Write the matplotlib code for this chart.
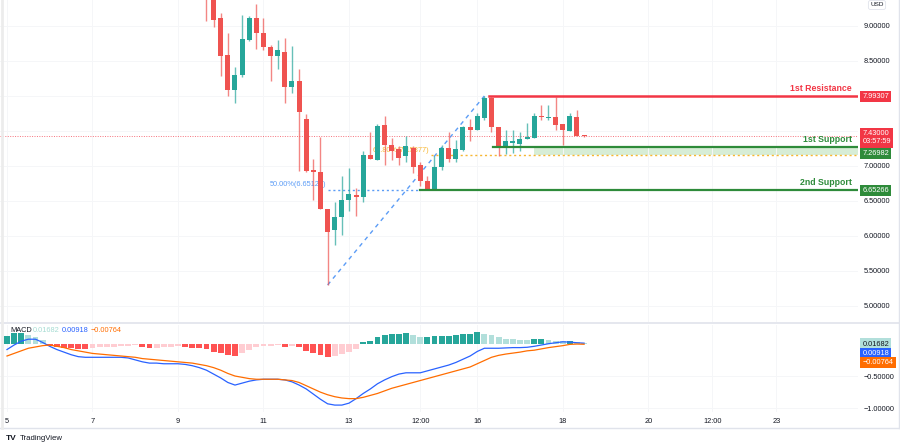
import matplotlib
matplotlib.use('Agg')
import matplotlib.pyplot as plt
import matplotlib.transforms as mtransforms
from matplotlib.lines import Line2D
import numpy as np

plt.rcParams['font.family'] = ['Liberation Sans', 'DejaVu Sans']

# ---------------- data ----------------
candle_index = list(range(28, 82))
opens = [9.55, 9.45, 9.11, 8.59, 8.09, 8.30, 8.80, 9.11, 8.90, 8.70,
         8.57, 8.63, 8.13, 8.22, 7.67, 6.94, 6.91, 6.39, 6.08, 6.27,
         6.51, 6.59, 6.55, 7.15, 7.09, 7.59, 7.30, 7.24, 7.14, 7.26,
         7.01, 6.78, 6.66, 6.98, 7.25, 7.10, 7.23, 7.56, 7.51, 7.68,
         7.97, 7.55, 7.29, 7.33, 7.32, 7.39, 7.40, 7.71, 7.69, 7.70,
         7.60, 7.50, 7.70, 7.43]
highs = [9.60, 9.50, 9.18, 8.90, 8.42, 9.16, 9.14, 9.31, 9.11, 8.73,
         8.80, 8.83, 8.71, 8.39, 7.74, 7.10, 7.41, 6.39, 6.49, 6.86,
         6.97, 6.68, 7.22, 7.48, 7.60, 7.71, 7.40, 7.29, 7.43, 7.29,
         7.06, 6.85, 7.14, 7.30, 7.49, 7.37, 7.57, 7.67, 7.76, 8.00,
         7.99, 7.55, 7.51, 7.52, 7.49, 7.61, 7.75, 7.87, 7.87, 7.98,
         7.60, 7.75, 7.80, 7.44]
lows = [9.07, 8.99, 8.29, 8.00, 7.90, 8.27, 8.78, 8.67, 8.66, 8.21,
        8.39, 7.90, 8.04, 6.93, 6.91, 6.52, 6.39, 5.30, 5.87, 6.01,
        6.36, 6.28, 6.48, 7.10, 7.08, 7.01, 7.09, 7.01, 7.05, 6.90,
        6.71, 6.66, 6.65, 6.94, 7.05, 7.05, 7.21, 7.35, 7.51, 7.66,
        7.48, 7.14, 7.17, 7.19, 7.21, 7.38, 7.40, 7.66, 7.66, 7.52,
        7.30, 7.50, 7.43, 7.415]
closes = [9.42, 9.09, 8.57, 8.09, 8.30, 8.81, 9.11, 8.90, 8.70, 8.57,
          8.65, 8.13, 8.22, 7.77, 6.93, 6.92, 6.39, 6.06, 6.27, 6.51,
          6.60, 6.56, 7.15, 7.10, 7.57, 7.30, 7.22, 7.12, 7.28, 6.98,
          6.78, 6.67, 6.99, 7.25, 7.10, 7.24, 7.56, 7.51, 7.71, 7.97,
          7.56, 7.28, 7.36, 7.35, 7.39, 7.41, 7.71, 7.70, 7.70, 7.59,
          7.51, 7.72, 7.43, 7.425]

macd_index = list(range(0, 82))
macd_hist = [0.12, 0.16, 0.17, 0.13, 0.11, 0.06, -0.035, -0.046, -0.06, -0.07,
             -0.075, -0.087, -0.072, -0.057, -0.05, -0.046, -0.036, -0.028, -0.02, -0.057,
             -0.072, -0.068, -0.057, -0.046, -0.036, -0.057, -0.065, -0.072, -0.087, -0.123,
             -0.149, -0.18, -0.185, -0.149, -0.098, -0.046, -0.036, -0.028, -0.018, -0.046,
             -0.03, -0.057, -0.108, -0.139, -0.175, -0.2, -0.19, -0.164, -0.128, -0.087,
             0.02, 0.05, 0.11, 0.14, 0.15, 0.155, 0.16, 0.13, 0.10, 0.105,
             0.119, 0.12, 0.125, 0.14, 0.15, 0.155, 0.175, 0.155, 0.13, 0.10,
             0.08, 0.07, 0.06, 0.055, 0.068, 0.07, 0.057, 0.047, 0.036, 0.045,
             0.025, 0.0168]
macd_line = [-0.09, -0.02, 0.04, 0.07, 0.07, 0.02, -0.04, -0.09, -0.13, -0.17,
             -0.20, -0.21, -0.21, -0.21, -0.21, -0.21, -0.21, -0.22, -0.25, -0.28,
             -0.30, -0.30, -0.31, -0.31, -0.31, -0.32, -0.34, -0.37, -0.41, -0.47,
             -0.53, -0.60, -0.64, -0.61, -0.58, -0.56, -0.55, -0.55, -0.55, -0.56,
             -0.59, -0.64, -0.70, -0.78, -0.86, -0.93, -0.95, -0.95, -0.92, -0.85,
             -0.77, -0.70, -0.62, -0.56, -0.51, -0.47, -0.45, -0.45, -0.45, -0.42,
             -0.39, -0.36, -0.33, -0.29, -0.24, -0.19, -0.12, -0.07, -0.07, -0.07,
             -0.065, -0.06, -0.06, -0.055, -0.04, -0.02, 0.0, 0.015, 0.03, 0.025,
             0.015, 0.009]
signal_line = [-0.19, -0.15, -0.11, -0.07, -0.05, -0.03, -0.02, -0.04, -0.06, -0.09,
               -0.11, -0.13, -0.15, -0.16, -0.17, -0.18, -0.19, -0.20, -0.21, -0.23,
               -0.24, -0.25, -0.26, -0.27, -0.28, -0.29, -0.30, -0.32, -0.34, -0.37,
               -0.41, -0.46, -0.50, -0.52, -0.54, -0.55, -0.55, -0.55, -0.55, -0.56,
               -0.57, -0.60, -0.65, -0.70, -0.75, -0.79, -0.82, -0.84, -0.85, -0.85,
               -0.83, -0.80, -0.77, -0.73, -0.69, -0.66, -0.63, -0.60, -0.57, -0.54,
               -0.51, -0.48, -0.45, -0.42, -0.39, -0.36, -0.31, -0.26, -0.21, -0.18,
               -0.16, -0.145, -0.13, -0.11, -0.10, -0.08, -0.06, -0.045, -0.03, -0.01,
               -0.005, -0.008]

xtick_pos = [0, 12, 24, 36, 48, 58, 66, 78, 90, 99, 108]
xtick_labels = ['5', '7', '9', '11', '13', '12:00', '16', '18', '20', '12:00', '23']
price_ticks = [5.0, 5.5, 6.0, 6.5, 7.0, 7.5, 8.0, 8.5, 9.0]
macd_ticks = [-1.0, -0.5]

resistance1 = 7.99307
support1 = 7.26982
support2 = 6.65266
current_price = 7.43
fib50 = 6.65126
fib618 = 7.15377
macd_last = 0.01682
macd_val = 0.00918
signal_val = -0.00764

# ---------------- style ----------------
UP = '#26a69a'
DN = '#ef5350'
RED = '#f23645'
GREEN = '#2e8b3a'
BLUE = '#2962ff'
ORANGE = '#ff6d00'
TXT = '#131722'
FS = 5.3

W, H = 900, 447
def fx(px):
    return px / W
def fy(py):
    return 1 - py / H

fig = plt.figure(figsize=(9, 4.47), dpi=100)
fig.patch.set_facecolor('white')

ax = fig.add_axes([0, fy(322), fx(858), 322 / H])
ax2 = fig.add_axes([0, fy(412), fx(858), (412 - 325) / H], sharex=ax)

xmin, xmax = -0.98, 119.44
ax.set_xlim(xmin, xmax)
ax.set_ylim(4.771, 9.371)
ax2.set_ylim(-1.057, 0.29)

for a in (ax, ax2):
    for s in a.spines.values():
        s.set_visible(False)
    a.set_facecolor('white')

# grid
ax.set_yticks(price_ticks)
ax.set_xticks(xtick_pos)
ax.grid(True, color='#f5f6f8', lw=0.7, zorder=0)
ax2.set_yticks(macd_ticks)
ax2.grid(True, color='#f5f6f8', lw=0.7, zorder=0)

# candles
ci = np.array(candle_index)
o = np.array(opens); h = np.array(highs); l = np.array(lows); c = np.array(closes)
up = c >= o
cols = np.where(up, UP, DN)
ax.vlines(ci, l, h, colors=cols, lw=1.0, alpha=0.7, zorder=4)
bot = np.minimum(o, c)
hgt = np.maximum(np.abs(c - o), 0.015)
ax.bar(ci, hgt, bottom=bot, width=0.7, color=cols, linewidth=0, zorder=5)

blend = mtransforms.blended_transform_factory(ax.transAxes, ax.transData)

# current price dotted line
ax.axhline(current_price, color=RED, ls=(0, (1, 1.5)), lw=0.7, alpha=0.7, zorder=2)

# fib diagonal from swing low to the following swing high
k_lo = int(np.argmin(l))
k_hi = k_lo + int(np.argmax(h[k_lo:]))
lo_i, hi_i = int(ci[k_lo]), int(ci[k_hi])
ax.plot([lo_i, hi_i], [l[k_lo], h[k_hi]], color='#5b9cf6', lw=1.0,
        ls=(0, (3, 3)), zorder=3)
# fib 50% line
ax.plot([lo_i, 58], [fib50, fib50], color='#5b9cf6', lw=1.0, ls=(0, (1.5, 2)), zorder=3)
ax.annotate('50.00%(6.65126)', xy=(lo_i - 0.2, fib50), xytext=(0, 1.5),
            textcoords='offset points', ha='right', va='bottom',
            fontsize=FS, color='#5b9cf6', zorder=3)
# fib 61.8% line
ax.plot([59.5, xmax], [fib618, fib618], color='#f7b631', lw=1.0,
        ls=(0, (1.5, 2)), zorder=3)
ax.annotate('61.80%(7.15377)', xy=(59.3, fib618), xytext=(0, 1.0),
            textcoords='offset points', ha='right', va='bottom',
            fontsize=FS, color='#f7b631', zorder=3)

# support zone shading
ax.fill_between([74, xmax], [fib618, fib618], [support1, support1],
                color='#d7edd6', lw=0, zorder=1)

# levels
ax.plot([67.6, xmax], [resistance1, resistance1], color=RED, lw=1.8, zorder=6)
ax.plot([68.2, xmax], [support1, support1], color=GREEN, lw=1.6, zorder=6)
ax.plot([58, xmax], [support2, support2], color=GREEN, lw=1.6, zorder=6)

for txt, lvl, col in [('1st Resistance', resistance1, RED),
                      ('1st Support', support1, GREEN),
                      ('2nd Support', support2, GREEN)]:
    ax.annotate(txt, xy=(0.993, lvl), xycoords=blend, xytext=(0, 2.2),
                textcoords='offset points', ha='right', va='bottom',
                fontsize=6.3, fontweight='bold', color=col, zorder=7)

# price axis
ax.yaxis.tick_right()
ax.set_yticklabels([f'{v:.5f}' for v in price_ticks])
ax.tick_params(axis='y', length=0, pad=4, labelsize=FS, labelcolor=TXT)
ax.tick_params(axis='x', length=0, labelbottom=False)

def tag(a, y, text, bg, fg, dy=0):
    tr = mtransforms.blended_transform_factory(a.transAxes, a.transData)
    a.annotate(text, xy=(1.0, y), xycoords=tr, xytext=(3.2, dy),
               textcoords='offset points', ha='left', va='center',
               fontsize=FS, color=fg, annotation_clip=False, zorder=10,
               bbox=dict(boxstyle='square,pad=0.28', fc=bg, ec='none'))

tag(ax, resistance1, f'{resistance1:.5f}', RED, 'white')
tag(ax, current_price, f'{current_price:.5f}\n03:57:59', RED, 'white', dy=-1.5)
tag(ax, support1, f'{support1:.5f}', GREEN, 'white', dy=-4.5)
tag(ax, support2, f'{support2:.5f}', GREEN, 'white')

# USD box
fig.text(fx(877), fy(5), 'USD', ha='center', va='center', fontsize=4.6, color=TXT,
         bbox=dict(boxstyle='round,pad=0.3', fc='white', ec='#e0e3eb', lw=0.6))

# ---------------- MACD panel ----------------
hist = np.array(macd_hist)
mi = np.array(macd_index)
hcols = []
for k, v in enumerate(hist):
    prev = hist[k - 1] if k > 0 else v - 1e-3
    if v >= 0:
        hcols.append('#26a69a' if v > prev else '#b2dfdb')
    else:
        hcols.append('#ff5252' if v < prev else '#ffcdd2')
ax2.bar(mi, hist, width=0.82, color=hcols, linewidth=0, zorder=2)
ax2.plot(mi, macd_line, color=BLUE, lw=0.9, zorder=3)
ax2.plot(mi, signal_line, color=ORANGE, lw=0.9, zorder=3)

ax2.yaxis.tick_right()
ax2.set_yticklabels([f'{v:.5f}'.replace('-', '\u2212') for v in macd_ticks])
ax2.tick_params(axis='y', length=0, pad=4, labelsize=FS, labelcolor=TXT)
ax2.set_xticks(xtick_pos)
ax2.set_xticklabels(xtick_labels)
ax2.tick_params(axis='x', length=0, pad=4, labelsize=FS, labelcolor=TXT)

tag(ax2, macd_last, f'{macd_last:.5f}', '#b2dfdb', TXT, dy=-1)
tag(ax2, macd_last, f'{macd_val:.5f}', BLUE, 'white', dy=-7.6)
tag(ax2, macd_last, f'{signal_val:.5f}'.replace('-', '\u2212'), ORANGE, 'white', dy=-14.2)

fig.text(fx(10), fy(331), 'MACD', ha='left', va='center', fontsize=FS, color=TXT)
fig.text(fx(33), fy(331), f'{macd_last:.5f}', ha='left', va='center', fontsize=FS, color='#a6dcd3')
fig.text(fx(62), fy(331), f'{macd_val:.5f}', ha='left', va='center', fontsize=FS, color=BLUE)
fig.text(fx(91), fy(331), f'{signal_val:.5f}'.replace('-', '\u2212'), ha='left', va='center',
         fontsize=FS, color=ORANGE)

# frame lines
fig.add_artist(Line2D([0, 1], [fy(323), fy(323)], color='#e0e3eb', lw=1.2))
fig.add_artist(Line2D([0, 1], [fy(428), fy(428)], color='#e0e3eb', lw=1.0))
fig.add_artist(Line2D([fx(2), fx(2)], [fy(428), 1], color='#ececec', lw=2.0))
fig.add_artist(Line2D([fx(898.5), fx(898.5)], [fy(428), 1], color='#e0e3eb', lw=1.0))

# logo
fig.text(fx(6), fy(438), 'TV', ha='left', va='center', fontsize=6, fontweight='bold', color=TXT)
fig.text(fx(20), fy(438), 'TradingView', ha='left', va='center', fontsize=5.6, color=TXT)

fig.savefig('out.png', dpi=100, facecolor='white')
